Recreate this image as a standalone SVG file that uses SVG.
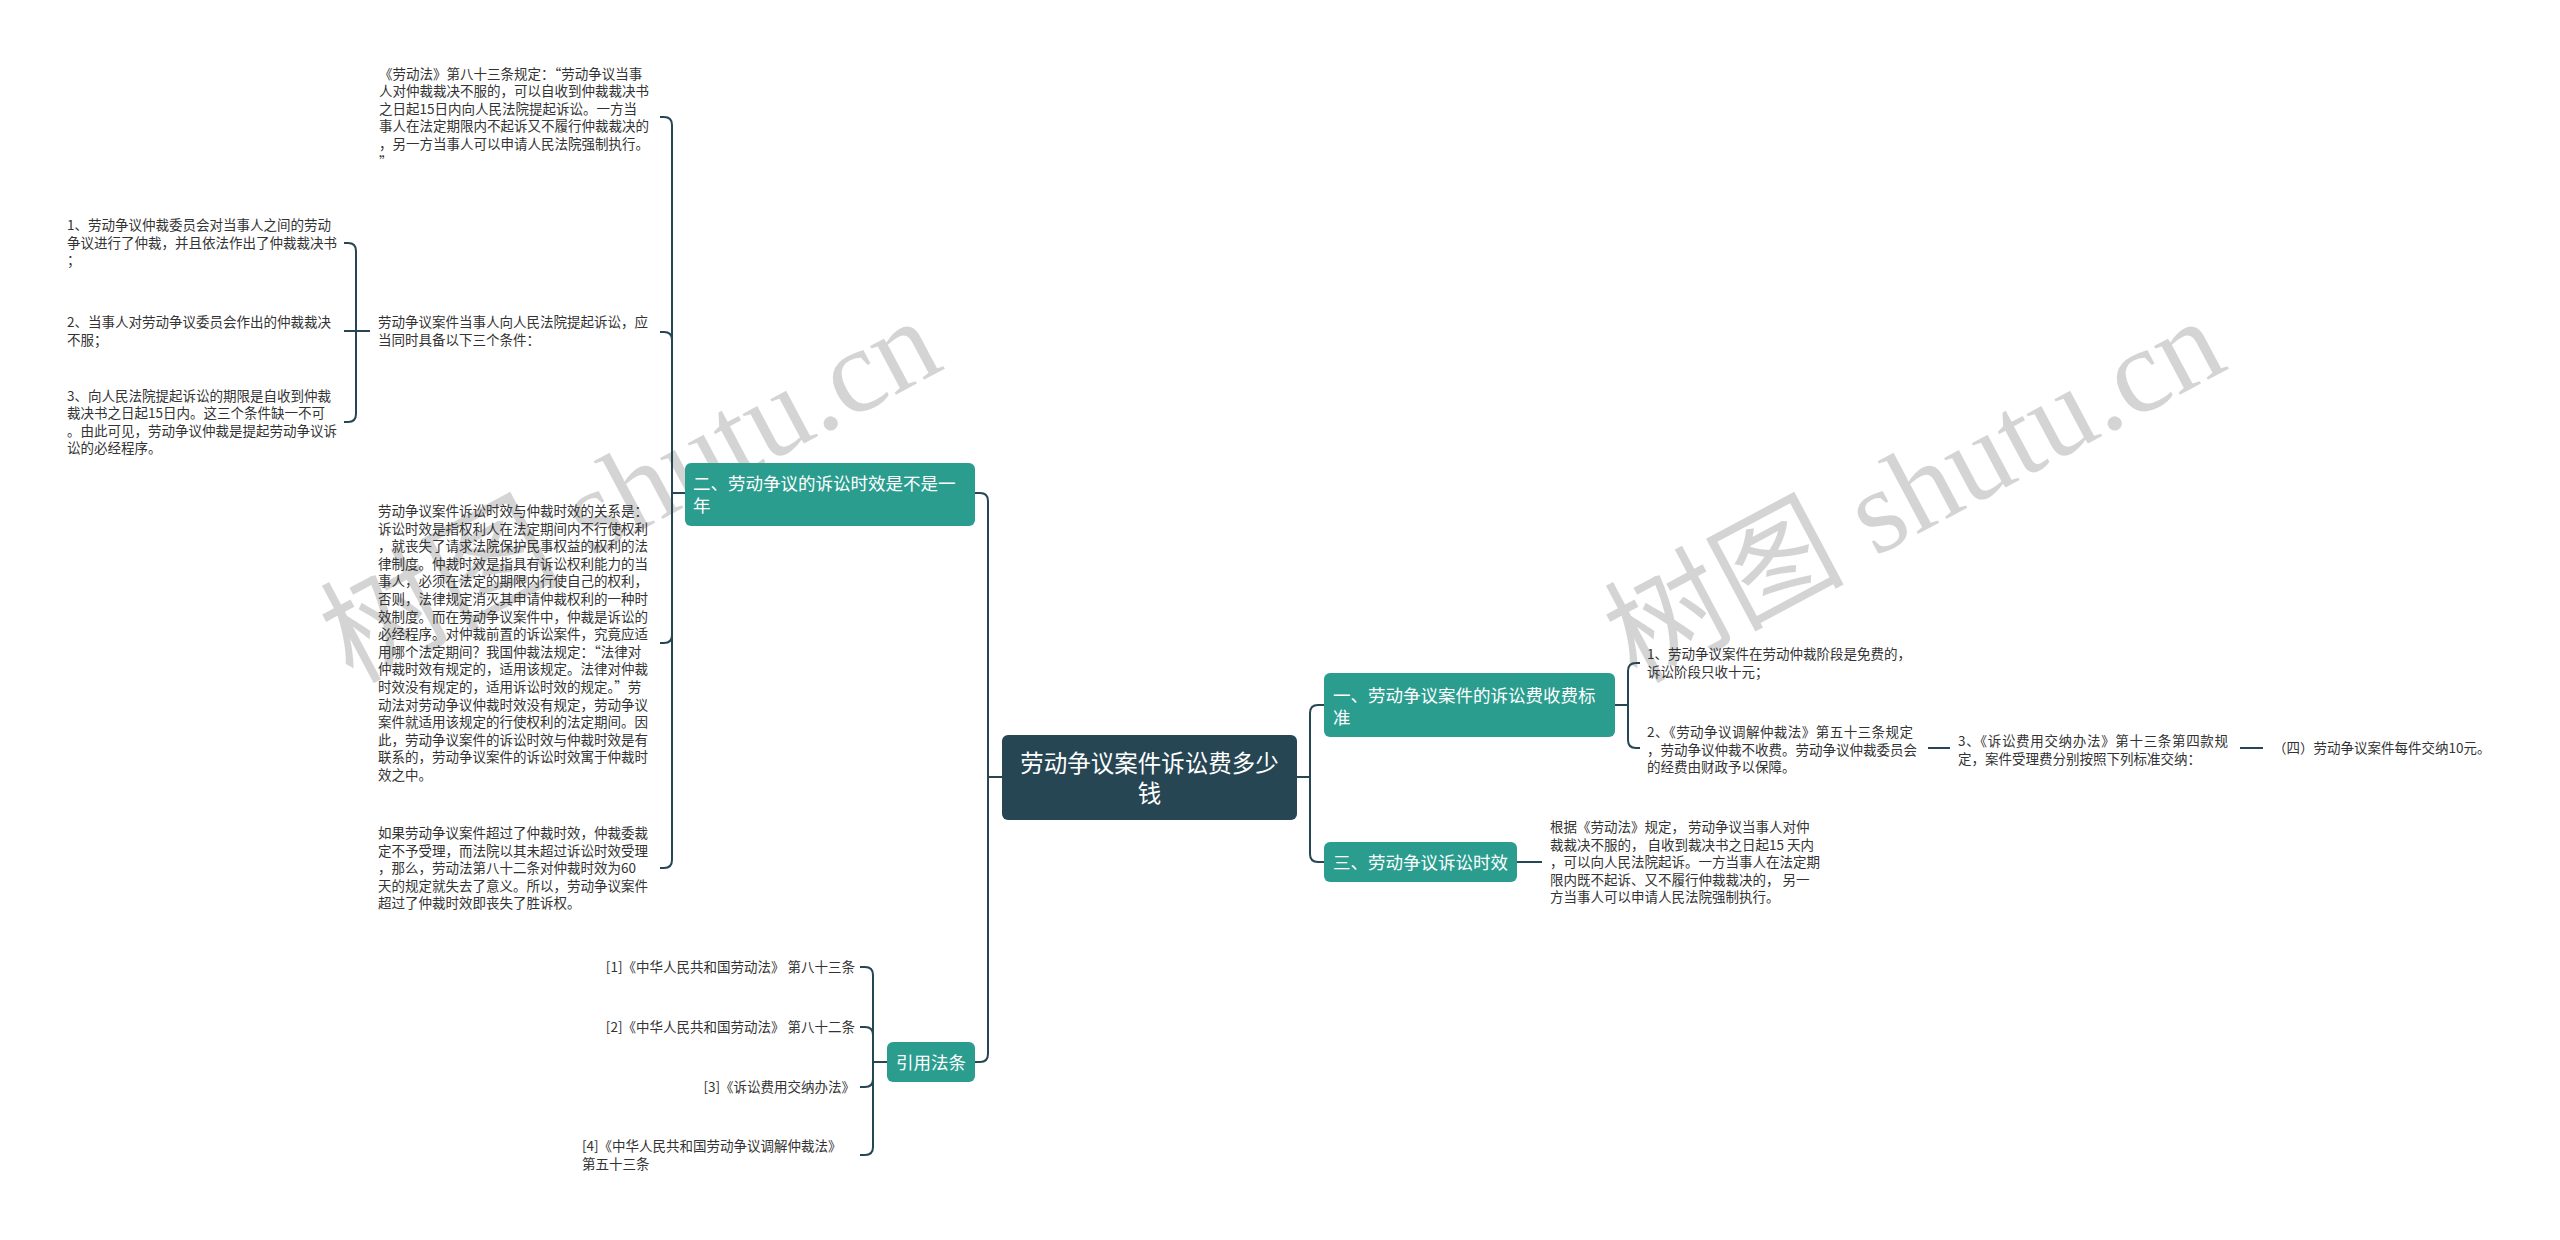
<svg xmlns="http://www.w3.org/2000/svg" width="2560" height="1240" viewBox="0 0 2560 1240">
<style>
.bg{fill:#ffffff}
.wm{font-family:"Liberation Serif","Noto Sans CJK SC",serif;font-size:120px;fill:#000;fill-opacity:0.17}
.root{fill:#264653}
.main{fill:#2a9d8f}
.nt{font-family:"Noto Sans CJK SC","Noto Sans",sans-serif;fill:#ffffff}
.t{font-family:"Noto Sans CJK SC","Noto Sans",sans-serif;font-size:13.5px;fill:#333333}
.c{fill:none;stroke:#264653;stroke-width:2}
</style>
<rect class="bg" x="0" y="0" width="2560" height="1240"/>
<g id="watermarks">
<text class="wm" transform="translate(352 684) rotate(-28)">树图 shutu.cn</text>
<text class="wm" transform="translate(1636 684) rotate(-28)">树图 shutu.cn</text>
</g>
<g id="connectors">
<path class="c" d="M1002 777H988V501Q988 493 980 493H975"/>
<path class="c" d="M1002 777H988V1054Q988 1062 980 1062H975"/>
<path class="c" d="M1297 777H1310V713Q1310 705 1318 705H1324"/>
<path class="c" d="M1297 777H1310V854Q1310 862 1318 862H1324"/>
<path class="c" d="M685 493H672V125Q672 117 664 117H660"/>
<path class="c" d="M685 493H672V340Q672 332 664 332H660"/>
<path class="c" d="M685 493H672V635Q672 643 664 643H660"/>
<path class="c" d="M685 493H672V860Q672 868 664 868H660"/>
<path class="c" d="M370 331H356V251Q356 243 348 243H344"/>
<path class="c" d="M370 331H344"/>
<path class="c" d="M370 331H356V414Q356 422 348 422H344"/>
<path class="c" d="M888 1062H873V975Q873 967 865 967H860"/>
<path class="c" d="M888 1062H873V1035Q873 1027 865 1027H860"/>
<path class="c" d="M888 1062H873V1079Q873 1087 865 1087H860"/>
<path class="c" d="M888 1062H873V1147Q873 1155 865 1155H860"/>
<path class="c" d="M1615 705H1628V671Q1628 663 1636 663H1640"/>
<path class="c" d="M1615 705H1628V740Q1628 748 1636 748H1640"/>
<path class="c" d="M1928 748H1950"/>
<path class="c" d="M2240 748H2263"/>
<path class="c" d="M1517 862H1542"/>
</g>
<g id="root">
<rect class="root" x="1002" y="735" width="295" height="85" rx="6"/>
<text class="nt" font-size="23.5" text-anchor="middle"><tspan x="1149.5" y="772">劳动争议案件诉讼费多少</tspan><tspan x="1149.5" y="802">钱</tspan></text>
</g>
<g id="n2">
<rect class="main" x="685" y="463" width="290" height="63" rx="6"/>
<text class="nt" font-size="17.5"><tspan x="693" y="489.6">二、劳动争议的诉讼时效是不是一</tspan><tspan x="693" y="511.6">年</tspan></text>
</g>
<g id="n2-1">
<text class="t"><tspan x="379" y="78.5">《劳动法》第八十三条规定：“劳动争议当事</tspan><tspan x="379" dy="17.6">人对仲裁裁决不服的，可以自收到仲裁裁决书</tspan><tspan x="379" dy="17.6">之日起15日内向人民法院提起诉讼。一方当</tspan><tspan x="379" dy="17.6">事人在法定期限内不起诉又不履行仲裁裁决的</tspan><tspan x="379" dy="17.6">，另一方当事人可以申请人民法院强制执行。</tspan><tspan x="379" dy="17.6">”</tspan></text>
</g>
<g id="n2-2">
<text class="t"><tspan x="378" y="327">劳动争议案件当事人向人民法院提起诉讼，应</tspan><tspan x="378" dy="17.6">当同时具备以下三个条件：</tspan></text>
</g>
<g id="n2-2-1">
<text class="t"><tspan x="67" y="230">1、劳动争议仲裁委员会对当事人之间的劳动</tspan><tspan x="67" dy="17.6">争议进行了仲裁，并且依法作出了仲裁裁决书</tspan><tspan x="67" dy="17.6">；</tspan></text>
</g>
<g id="n2-2-2">
<text class="t"><tspan x="67" y="327">2、当事人对劳动争议委员会作出的仲裁裁决</tspan><tspan x="67" dy="17.6">不服；</tspan></text>
</g>
<g id="n2-2-3">
<text class="t"><tspan x="67" y="400.6">3、向人民法院提起诉讼的期限是自收到仲裁</tspan><tspan x="67" dy="17.6">裁决书之日起15日内。这三个条件缺一不可</tspan><tspan x="67" dy="17.6">。由此可见，劳动争议仲裁是提起劳动争议诉</tspan><tspan x="67" dy="17.6">讼的必经程序。</tspan></text>
</g>
<g id="n2-3">
<text class="t"><tspan x="378" y="516">劳动争议案件诉讼时效与仲裁时效的关系是：</tspan><tspan x="378" dy="17.6">诉讼时效是指权利人在法定期间内不行使权利</tspan><tspan x="378" dy="17.6">，就丧失了请求法院保护民事权益的权利的法</tspan><tspan x="378" dy="17.6">律制度。仲裁时效是指具有诉讼权利能力的当</tspan><tspan x="378" dy="17.6">事人，必须在法定的期限内行使自己的权利，</tspan><tspan x="378" dy="17.6">否则，法律规定消灭其申请仲裁权利的一种时</tspan><tspan x="378" dy="17.6">效制度。而在劳动争议案件中，仲裁是诉讼的</tspan><tspan x="378" dy="17.6">必经程序。对仲裁前置的诉讼案件，究竟应适</tspan><tspan x="378" dy="17.6">用哪个法定期间？我国仲裁法规定：“法律对</tspan><tspan x="378" dy="17.6">仲裁时效有规定的，适用该规定。法律对仲裁</tspan><tspan x="378" dy="17.6">时效没有规定的，适用诉讼时效的规定。”劳</tspan><tspan x="378" dy="17.6">动法对劳动争议仲裁时效没有规定，劳动争议</tspan><tspan x="378" dy="17.6">案件就适用该规定的行使权利的法定期间。因</tspan><tspan x="378" dy="17.6">此，劳动争议案件的诉讼时效与仲裁时效是有</tspan><tspan x="378" dy="17.6">联系的，劳动争议案件的诉讼时效寓于仲裁时</tspan><tspan x="378" dy="17.6">效之中。</tspan></text>
</g>
<g id="n2-4">
<text class="t"><tspan x="378" y="838">如果劳动争议案件超过了仲裁时效，仲裁委裁</tspan><tspan x="378" dy="17.6">定不予受理，而法院以其未超过诉讼时效受理</tspan><tspan x="378" dy="17.6">，那么，劳动法第八十二条对仲裁时效为60</tspan><tspan x="378" dy="17.6">天的规定就失去了意义。所以，劳动争议案件</tspan><tspan x="378" dy="17.6">超过了仲裁时效即丧失了胜诉权。</tspan></text>
</g>
<g id="law">
<rect class="main" x="887" y="1042" width="88" height="40" rx="6"/>
<text class="nt" font-size="17.5" x="896" y="1068.6">引用法条</text>
</g>
<g id="law-1"><text class="t" text-anchor="end" x="855" y="972">[1]《中华人民共和国劳动法》 第八十三条</text></g>
<g id="law-2"><text class="t" text-anchor="end" x="855" y="1032">[2]《中华人民共和国劳动法》 第八十二条</text></g>
<g id="law-3"><text class="t" text-anchor="end" x="855" y="1092">[3]《诉讼费用交纳办法》</text></g>
<g id="law-4"><text class="t"><tspan x="582" y="1151">[4]《中华人民共和国劳动争议调解仲裁法》</tspan><tspan x="582" dy="17.6">第五十三条</tspan></text></g>
<g id="n1">
<rect class="main" x="1324" y="673" width="291" height="64" rx="6"/>
<text class="nt" font-size="17.5"><tspan x="1333" y="701.6">一、劳动争议案件的诉讼费收费标</tspan><tspan x="1333" y="723.6">准</tspan></text>
</g>
<g id="n1-1">
<text class="t"><tspan x="1647" y="659">1、劳动争议案件在劳动仲裁阶段是免费的，</tspan><tspan x="1647" dy="17.6">诉讼阶段只收十元；</tspan></text>
</g>
<g id="n1-2">
<text class="t"><tspan x="1647" y="737" textLength="266" lengthAdjust="spacing">2、《劳动争议调解仲裁法》第五十三条规定</tspan><tspan x="1647" dy="17.6">，劳动争议仲裁不收费。劳动争议仲裁委员会</tspan><tspan x="1647" dy="17.6">的经费由财政予以保障。</tspan></text>
</g>
<g id="n1-2-1">
<text class="t"><tspan x="1958" y="746" textLength="270" lengthAdjust="spacing">3、《诉讼费用交纳办法》第十三条第四款规</tspan><tspan x="1958" dy="17.6">定，案件受理费分别按照下列标准交纳：</tspan></text>
</g>
<g id="n1-2-1-1">
<text class="t" x="2273" y="753">（四）劳动争议案件每件交纳10元。</text>
</g>
<g id="n3">
<rect class="main" x="1324" y="842" width="193" height="40" rx="6"/>
<text class="nt" font-size="17.5" x="1333" y="868.6">三、劳动争议诉讼时效</text>
</g>
<g id="n3-1">
<text class="t"><tspan x="1550" y="832">根据《劳动法》规定， 劳动争议当事人对仲</tspan><tspan x="1550" dy="17.6">裁裁决不服的， 自收到裁决书之日起15 天内</tspan><tspan x="1550" dy="17.6">，可以向人民法院起诉。一方当事人在法定期</tspan><tspan x="1550" dy="17.6">限内既不起诉、又不履行仲裁裁决的， 另一</tspan><tspan x="1550" dy="17.6">方当事人可以申请人民法院强制执行。</tspan></text>
</g>
</svg>
